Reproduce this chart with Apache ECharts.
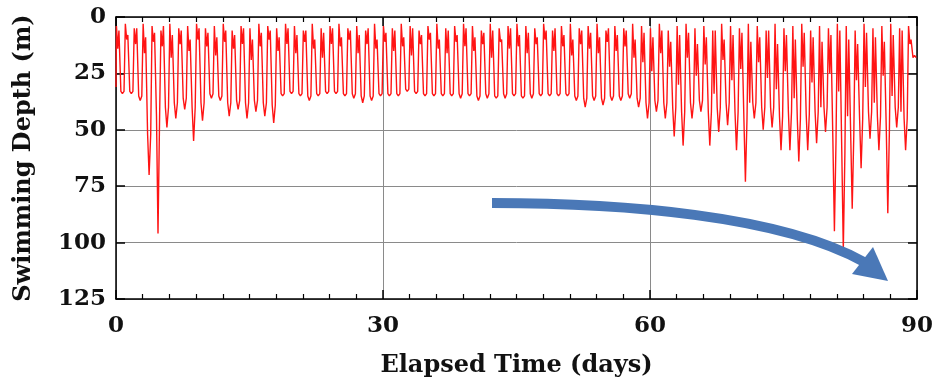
<!DOCTYPE html>
<html>
<head>
<meta charset="utf-8">
<script src="https://cdn.jsdelivr.net/npm/echarts@6/dist/echarts.min.js"></script>
<style>
html,body{margin:0;padding:0;background:#fff;}
#c{width:937px;height:383px;}
</style>
</head>
<body>
<div id="c"></div>
<script>
// ---- data (one dive cycle per day) ----
const xTicks = [0, 30, 60, 90];
const yTicks = [0, 25, 50, 75, 100, 125];
const startDepth = 31;
// shallowest depth of each day (m)
const topDepth = [4,3,5,3,4,6,3,5,4,3, 5,4,3,6,4,5,3,4,5,3, 4,6,3,5,4,3,5,4,6,3, 4,5,3,4,6,4,3,5,4,3, 4,6,3,5,4,3,4,5,3,6, 4,3,5,4,3,6,4,5,3,4, 5,3,6,4,3,5,4,6,3,4, 5,3,4,6,3,5,4,3,6,4, 5,3,4,6,3,5,4,3,5,4];
// secondary shallow dip of each day (m)
const notchDepth = [14,10,12,16,11,13,18,12,15,10, 13,17,11,14,12,19,13,10,15,12, 16,11,14,18,12,13,10,16,12,14, 11,15,13,17,12,10,14,16,11,13, 15,12,18,11,14,13,16,12,10,15, 13,17,12,14,16,11,15,13,18,20, 24,16,22,30,18,26,21,34,19,28, 23,38,20,27,32,24,36,22,29,40, 25,33,44,28,31,38,26,35,42,12];
// second shallow level before the deep descent (m)
const top2Depth = [6,8,5,9,7,4,8,6,10,5, 7,9,6,8,5,10,7,6,9,5, 8,6,10,7,5,9,6,8,5,10, 7,6,9,5,8,7,10,6,8,5, 9,7,6,10,5,8,7,9,6,5, 8,10,6,7,9,5,8,6,10,7, 9,6,11,8,7,12,9,6,10,8, 7,11,9,6,12,8,10,7,9,11, 8,6,10,12,7,9,11,8,6,10];
// maximum depth of each day's deep dive (m)
const deepDepth = [34,34,37,70,96,49,45,41,55,46, 36,37,44,41,45,42,44,47,35,34, 35,37,35,34,34,35,36,38,37,35, 35,35,33,34,35,35,35,35,36,35, 37,36,36,36,35,36,36,35,35,35, 35,37,40,37,39,37,37,36,40,45, 42,45,53,57,45,42,57,51,48,59, 73,45,50,49,59,59,64,59,56,51, 95,103,85,67,54,59,87,49,59,17];
// depth level of the deep phase around the maximum (m)
const bottomDepth = [33,33,35,52,44,40,38,36,40,38, 34,35,38,37,38,37,38,39,34,33, 34,35,34,33,33,34,34,35,35,34, 34,34,32,33,34,34,34,34,34,34, 35,34,35,34,34,35,34,34,34,34, 34,35,36,35,36,35,35,34,36,38, 37,38,40,42,38,37,42,40,38,42, 45,38,40,40,44,42,45,43,42,40, 55,60,52,45,42,44,50,40,45,18];

// build the dive trace from the arrays
const trace = [[0, startDepth]];
for (let i = 0; i < deepDepth.length; i++) {
  trace.push([i + 0.05, topDepth[i]]);
  trace.push([i + 0.20, notchDepth[i]]);
  trace.push([i + 0.33, top2Depth[i]]);
  trace.push([i + 0.45, top2Depth[i]]);
  trace.push([i + 0.55, bottomDepth[i]]);
  trace.push([i + 0.72, deepDepth[i]]);
  trace.push([i + 0.90, bottomDepth[i]]);
}

const FONT = 'DejaVu Serif';
const chart = echarts.init(document.getElementById('c'), null, {renderer: 'canvas'});
const xBase = {
  type: 'value', min: xTicks[0], max: xTicks[xTicks.length - 1], interval: 30,
  axisLine: {show: true, onZero: false, lineStyle: {color: '#000', width: 1.5}},
  axisTick: {show: true, inside: true, length: 9, lineStyle: {color: '#000', width: 1.5}},
  minorTick: {show: true, splitNumber: 10, length: 5, lineStyle: {color: '#000', width: 1.2}}
};
const yBase = {
  type: 'value', inverse: true, min: yTicks[0], max: yTicks[yTicks.length - 1], interval: 25,
  axisLine: {show: true, onZero: false, lineStyle: {color: '#000', width: 1.5}},
  axisTick: {show: true, inside: true, length: 9, lineStyle: {color: '#000', width: 1.5}}
};
chart.setOption({
  animation: false,
  backgroundColor: '#fff',
  grid: {left: 116, right: 20, top: 17, bottom: 83, containLabel: false},
  xAxis: [
    Object.assign({}, xBase, {
      position: 'bottom',
      name: 'Elapsed Time (days)', nameLocation: 'middle', nameGap: 55,
      nameTextStyle: {fontFamily: FONT, fontWeight: 'bold', fontSize: 24, color: '#111'},
      axisLabel: {fontFamily: FONT, fontWeight: 'bold', fontSize: 23, color: '#111', margin: 16},
      splitLine: {show: true, lineStyle: {color: '#8a8a8a', width: 1}}
    }),
    Object.assign({}, xBase, {position: 'top', axisLabel: {show: false}, splitLine: {show: false}})
  ],
  yAxis: [
    Object.assign({}, yBase, {
      position: 'left',
      name: 'Swimming Depth (m)', nameLocation: 'middle', nameGap: 80,
      nameTextStyle: {fontFamily: FONT, fontWeight: 'bold', fontSize: 24, color: '#111'},
      axisLabel: {fontFamily: FONT, fontWeight: 'bold', fontSize: 23, color: '#111', margin: 10},
      splitLine: {show: true, lineStyle: {color: '#8a8a8a', width: 1}}
    }),
    Object.assign({}, yBase, {position: 'right', axisLabel: {show: false}, splitLine: {show: false}})
  ],
  series: [{
    type: 'line', xAxisIndex: 0, yAxisIndex: 0,
    data: trace, showSymbol: false, symbol: 'none',
    lineStyle: {color: '#ff1414', width: 1.4},
    z: 3
  }],
  graphic: [
    {
      type: 'bezierCurve', z: 100,
      shape: {x1: 492, y1: 203, cpx1: 620, cpy1: 203, cpx2: 780, cpy2: 215, x2: 864, y2: 262},
      style: {stroke: '#4a78b7', lineWidth: 10, fill: null, lineCap: 'butt'}
    },
    {
      type: 'polygon', z: 100,
      shape: {points: [[852, 274], [873, 247], [888, 281]]},
      style: {fill: '#4a78b7'}
    }
  ]
});
</script>
</body>
</html>
